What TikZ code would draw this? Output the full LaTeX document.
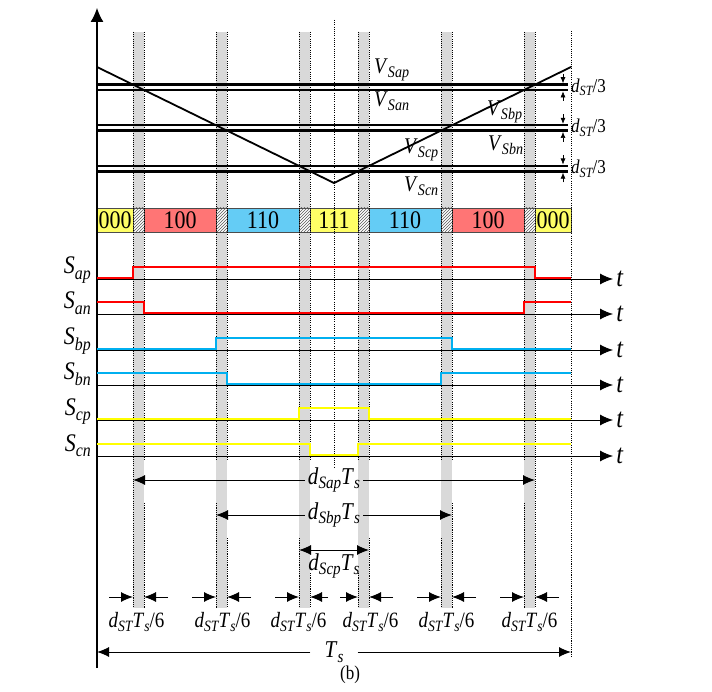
\documentclass[tikz,border=0pt]{standalone}
\usepackage{fontspec}
\setmainfont{Liberation Serif}
\usetikzlibrary{arrows.meta,patterns}
\definecolor{cellyellow}{RGB}{255,255,102}
\definecolor{cellred}{RGB}{255,117,117}
\definecolor{cellblue}{RGB}{100,204,245}
\definecolor{sigred}{RGB}{255,0,0}
\definecolor{sigblue}{RGB}{0,176,240}
\definecolor{sigyellow}{RGB}{255,255,0}
\definecolor{bandgray}{RGB}{217,217,217}
\newcommand{\sx}[1]{\raisebox{-0.2em}{\scalebox{0.72}{\itshape #1}}}
\newcommand{\fs}[1]{\fontsize{#1}{#1}\selectfont}
\newcommand{\vs}[1]{\scalebox{1}[1.15]{#1}}
\tikzset{>={Latex[length=12pt,width=10pt]},
  edge/.style={line width=0.8pt,dash pattern=on 1.1pt off 1.1pt},
  level/.style={line width=2.6pt},
  taxis/.style={line width=0.9pt,-{Latex[length=13pt,width=11pt]}},
  sig/.style={line width=2.8pt,line join=miter},
  cell/.style={draw=black!70,line width=0.6pt},
  small/.style={line width=0.6pt,-{Latex[length=6pt,width=5pt]}},
  vlab/.style={anchor=west,inner sep=0pt,font=\fs{19.5}},
  dlab/.style={inner xsep=3pt,inner ysep=1pt,font=\fs{21}}
}

\begin{document}
\begin{tikzpicture}[x=1pt,y=-1pt]
    \useasboundingbox (0,0) rectangle (712,692);
    % dead-time bands
    \foreach \a in {133,216,299,358,441,524}
        \fill[bandgray] (\a,32) rectangle (\a+11,608);
    % switching states
    \foreach \a/\b/\c/\t in {97/133/cellyellow/000,144/216/cellred/100,227/299/cellblue/110,310/358/cellyellow/111,369/441/cellblue/110,452/524/cellred/100,535/571/cellyellow/000}{
        \draw[cell,fill=\c] (\a,208) rectangle (\b,232);
        \node[font=\fs{22},inner sep=0pt] (st\a) at ({(\a+\b)/2},220.5) {\vs{\t}};
    }
    \foreach \a in {133,216,299,358,441,524}
        \draw[cell,fill=white,postaction={pattern=north east lines,pattern color=black!65}] (\a,208) rectangle (\a+11,232);
    % dotted edges
    \foreach \x in {144,216,227,299,310,358,369,441,452,524}
        \draw[edge] (\x,32) -- (\x,460);
    \foreach \x/\y in {144/503,216/503,227/538,299/538,310/573,358/573,369/538,441/538,452/503,524/503}
        \draw[edge] (\x,\y) -- (\x,608);
    \draw[edge] (133,32) -- (133,608);
    \draw[edge] (535,32) -- (535,608);
    \draw[edge] (334,20) -- (334,467);
    \draw[edge] (571,31) -- (571,657);
    % carrier and reference levels
    \foreach \u/\l in {84.6/90,125.2/130.6,165.9/171.3}{
        \draw[level] (97,\u) -- (568,\u);
        \draw[level] (97,\l) -- (568,\l);
        \draw[small] (563,\u-11) -- (563,\u-1.4);
        \draw[small] (563,\l+11) -- (563,\l+1.4);
        \node[anchor=west,inner sep=1pt,font=\fs{17}] at (570,{(\u+\l)/2}) {\vs{\textit{d}\sx{ST}/3}};
    }
    \draw[line width=1.8pt] (97,67) -- (334,183) -- (571,67);
    \node[vlab] (vsap) at (374,70) {\vs{\textit{V}\sx{Sap}}};
    \node[vlab] (vsan) at (374,101) {\vs{\textit{V}\sx{San}}};
    \node[vlab] (vsbp) at (487,112) {\vs{\textit{V}\sx{Sbp}}};
    \node[vlab] (vsbn) at (488,145) {\vs{\textit{V}\sx{Sbn}}};
    \node[vlab] (vscp) at (404,150) {\vs{\textit{V}\sx{Scp}}};
    \node[vlab] (vscn) at (404,186) {\vs{\textit{V}\sx{Scn}}};
    % time axes
    \draw[line width=1.2pt,-{Latex[length=14pt,width=13pt]}] (97,668) -- (97,8);
    \foreach \y/\s in {279/ap,314/an,350/bp,385/bn,420/cp,456/cn}{
        \draw[taxis] (97,\y) -- (613,\y) node[right,inner sep=3pt,font=\fs{24}\itshape] (t\s) {\vs{t}};
        \node[anchor=base east,inner sep=0pt,font=\fs{22}] (S\s) at (91,\y-5) {\vs{\textit{S}\sx{\s}}};
    }
    % gate signals
    \draw[sig,sigred] (97,278) -- (133,278) -- (133,267) -- (535,267) -- (535,278) -- (571,278);
    \draw[sig,sigred] (97,302) -- (144,302) -- (144,313) -- (524,313) -- (524,302) -- (571,302);
    \draw[sig,sigblue] (97,349) -- (216,349) -- (216,338) -- (452,338) -- (452,349) -- (571,349);
    \draw[sig,sigblue] (97,373) -- (227,373) -- (227,384) -- (441,384) -- (441,373) -- (571,373);
    \draw[sig,sigyellow] (97,419) -- (299,419) -- (299,408) -- (369,408) -- (369,419) -- (571,419);
    \draw[sig,sigyellow] (97,444) -- (310,444) -- (310,455) -- (358,455) -- (358,444) -- (571,444);
    % duty cycles
    \node[dlab] (dsap) at (334,480) {\vs{\textit{d}\sx{Sap}\textit{T}\sx{s}}};
    \draw[->,line width=1pt] (dsap) -- (133,480);
    \draw[->,line width=1pt] (dsap) -- (535,480);
    \node[dlab] (dsbp) at (334,515) {\vs{\textit{d}\sx{Sbp}\textit{T}\sx{s}}};
    \draw[->,line width=1pt] (dsbp) -- (216,515);
    \draw[->,line width=1pt] (dsbp) -- (452,515);
    \draw[<->,line width=1pt] (299,550) -- (369,550);
    \node[dlab] (dscp) at (334,566) {\vs{\textit{d}\sx{Scp}\textit{T}\sx{s}}};
    % dead times
    \foreach \a/\l/\r/\m in {133/24/24/-2,216/24/24/1,299/24/18/-6,358/18/24/7,441/24/24/0,524/24/24/0}{
        \draw[->,line width=1pt] (\a-\l,597) -- (\a,597);
        \draw[->,line width=1pt] (\a+11+\r,597) -- (\a+11,597);
        \node[anchor=base,inner sep=0pt,font=\fs{19}] (dt\a) at (\a+5.5+\m,627) {\vs{\textit{d}\sx{ST}\textit{T}\sx{s}/6}};
    }
    \node[dlab,minimum width=47pt,inner xsep=0pt] (ts) at (334,652) {\vs{\textit{T}\sx{s}}};
    \draw[->,line width=1pt] (ts) -- (97,652);
    \draw[->,line width=1pt] (ts) -- (571,652);
    \node[font=\fs{17}] (cap) at (350,675) {\vs{(b)}};
\end{tikzpicture}
\end{document}
